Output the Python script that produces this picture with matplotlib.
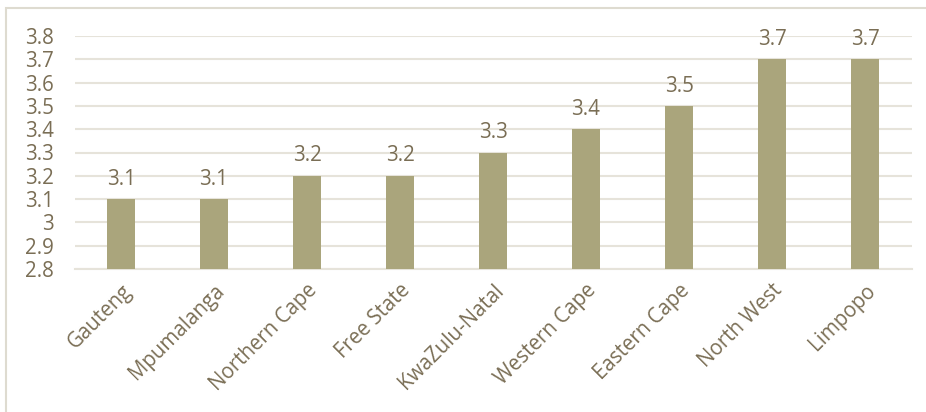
import matplotlib
matplotlib.use('Agg')
import matplotlib.pyplot as plt
import matplotlib.patches as mpatches
import numpy as np

provinces = ['Gauteng', 'Mpumalanga', 'Northern Cape', 'Free State', 'KwaZulu-Natal',
             'Western Cape', 'Eastern Cape', 'North West', 'Limpopo']
values = [3.1, 3.1, 3.2, 3.2, 3.3, 3.4, 3.5, 3.7, 3.7]
yticks = [2.8, 2.9, 3.0, 3.1, 3.2, 3.3, 3.4, 3.5, 3.6, 3.7, 3.8]
ytick_labels = ['2.8', '2.9', '3', '3.1', '3.2', '3.3', '3.4', '3.5', '3.6', '3.7', '3.8']

txt = '#7a6e55'
bar_col = '#aaa57c'
grid_col = '#e6e3da'
fs = 14.8

plt.rcParams['font.family'] = ['Open Sans', 'DejaVu Sans']

W, H = 926, 412
fig = plt.figure(figsize=(W / 100, H / 100), dpi=100)
ax = fig.add_axes([74.5 / W, 1 - 269 / H, (911.5 - 74.5) / W, (269 - 36) / H])

# chart border
fig.patches.append(mpatches.Rectangle((6 / W, -0.1), 1.1, 1.1 - 8 / H,
                                      transform=fig.transFigure, fill=False,
                                      edgecolor='#dedbd0', linewidth=1.5))

x = np.arange(len(provinces))
ax.bar(x, values, width=0.31, color=bar_col, zorder=3)
for xi, v in zip(x, values):
    ax.text(xi, v + 0.04, f'{v:g}', ha='center', va='bottom', fontsize=fs,
            color=txt, zorder=4)

ax.set_ylim(2.8, 3.8)
ax.set_xlim(-0.5, len(provinces) - 0.5)
ax.set_yticks(yticks)
ax.set_yticklabels(ytick_labels, fontsize=fs, color=txt)
ax.yaxis.grid(True, color=grid_col, linewidth=1.5, zorder=0)
ax.set_axisbelow(True)
ax.set_xticks(x)
ax.set_xticklabels(provinces, rotation=45, ha='right', rotation_mode='anchor',
                   fontsize=fs, color=txt)
ax.tick_params(axis='both', length=0)
ax.tick_params(axis='y', pad=15)
ax.tick_params(axis='x', pad=8)
for s in ['top', 'right', 'left']:
    ax.spines[s].set_visible(False)
ax.spines['bottom'].set_color(grid_col)
ax.spines['bottom'].set_linewidth(1.5)

plt.savefig('out.png', dpi=100)
